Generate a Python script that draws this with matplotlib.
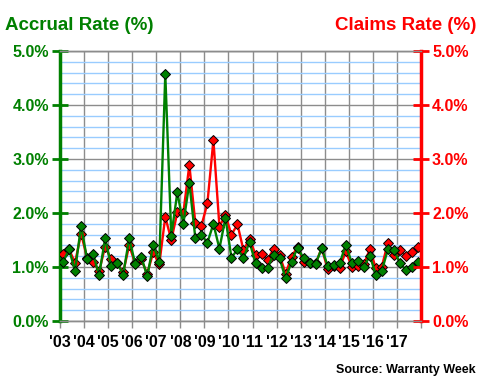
import matplotlib
matplotlib.use("Agg")
import matplotlib.pyplot as plt
import numpy as np

plt.rcParams['font.family'] = ['Liberation Sans', 'DejaVu Sans']
plt.rcParams['font.weight'] = 'bold'

# quarterly data, 2003 Q1 .. 2017 Q4
years = list(range(2003, 2018))
year_labels = ["'03", "'04", "'05", "'06", "'07", "'08", "'09", "'10",
               "'11", "'12", "'13", "'14", "'15", "'16", "'17"]

accrual = [1.09, 1.33, 0.93, 1.76, 1.15, 1.24, 0.85, 1.53,   # 03-04
           1.02, 1.08, 0.86, 1.53, 1.06, 1.19, 0.83, 1.41,   # 05-06
           1.09, 4.57, 1.58, 2.38, 1.80, 2.56, 1.53, 1.60,   # 07-08
           1.45, 1.80, 1.34, 1.91, 1.17, 1.33, 1.17, 1.46,   # 09-10
           1.08, 0.99, 0.99, 1.23, 1.16, 0.79, 1.10, 1.36,   # 11-12
           1.16, 1.08, 1.06, 1.35, 1.02, 1.04, 1.07, 1.41,   # 13-14
           1.08, 1.12, 1.00, 1.21, 0.86, 0.93, 1.33, 1.31,   # 15-16
           1.08, 0.94, 1.00, 1.10]                           # 17

claims = [1.24, 1.33, 1.08, 1.62, 1.17, 1.10, 0.92, 1.38,
          1.15, 1.07, 0.90, 1.40, 1.07, 1.14, 0.88, 1.27,
          1.05, 1.93, 1.50, 2.01, 2.00, 2.89, 1.81, 1.76,
          2.18, 3.35, 1.75, 1.96, 1.60, 1.79, 1.31, 1.52,
          1.23, 1.25, 1.13, 1.34, 1.22, 0.88, 1.19, 1.38,
          1.09, 1.07, 1.07, 1.35, 0.96, 1.02, 0.98, 1.29,
          1.01, 1.02, 1.05, 1.33, 0.98, 1.01, 1.45, 1.22,
          1.32, 1.20, 1.28, 1.38]

x = [y + (q + 0.5) / 4 for y in years for q in range(4)]

green = '#008000'
red = '#ff0000'
grid_gray = '#8c8c8c'
grid_blue = '#99ccff'

fig = plt.figure(figsize=(4.8, 3.8), dpi=100)
ax = fig.add_axes([0.125, 0.155, 0.752, 0.711])
ax2 = ax.twinx()

ax.plot(x, claims, color=red, lw=1.7, marker='D', ms=5, mfc=red,
        mec='black', mew=0.7, zorder=3)
ax.plot(x, accrual, color=green, lw=1.7, marker='D', ms=5, mfc=green,
        mec='black', mew=0.7, zorder=4)

ax.set_xlim(2003, 2018)
ax.set_ylim(0, 5)
ax2.set_ylim(0, 5)

ax.set_xticks(years + [2018])
ax.set_xticklabels(year_labels + [''])
ax.set_yticks(np.arange(0, 5.01, 1))
ax.set_yticks(np.arange(0, 5.01, 0.2), minor=True)
ax.set_yticklabels(['%.1f%%' % v for v in np.arange(0, 5.01, 1)])
ax2.set_yticks(np.arange(0, 5.01, 1))
ax2.set_yticklabels(['%.1f%%' % v for v in np.arange(0, 5.01, 1)])

ax.grid(which='minor', axis='y', color=grid_blue, lw=1, zorder=0)
ax.grid(which='major', axis='y', color=grid_gray, lw=1, zorder=1)
ax.grid(which='major', axis='x', color=grid_gray, lw=1, zorder=1)
ax.set_axisbelow(True)

ax.tick_params(axis='y', which='major', direction='inout', length=12, width=2,
               color=green, labelcolor=green, labelsize=11.5, pad=2)
ax.tick_params(axis='y', which='minor', length=0)
ax.tick_params(axis='x', direction='out', length=5, width=1, color=grid_gray,
               labelsize=11.5, pad=5)
ax2.tick_params(axis='y', direction='inout', length=12, width=2,
                color=red, labelcolor=red, labelsize=11.5, pad=2)

for a in (ax, ax2):
    a.spines['top'].set_color(grid_gray)
    a.spines['bottom'].set_color(grid_gray)
    a.spines['top'].set_linewidth(1)
    a.spines['bottom'].set_linewidth(1)
ax.spines['left'].set_color(green)
ax.spines['left'].set_linewidth(2.5)
ax.spines['right'].set_visible(False)
ax2.spines['left'].set_visible(False)
ax2.spines['right'].set_color(red)
ax2.spines['right'].set_linewidth(2.5)

fig.text(0.01, 0.955, 'Accrual Rate (%)', color=green, fontsize=13.5,
         fontweight='bold', ha='left', va='top')
fig.text(0.992, 0.955, 'Claims Rate (%)', color=red, fontsize=13.5,
         fontweight='bold', ha='right', va='top')
fig.text(0.99, 0.01, 'Source: Warranty Week', color='black', fontsize=9,
         fontweight='bold', ha='right', va='bottom')

fig.savefig('out.png', dpi=100)
